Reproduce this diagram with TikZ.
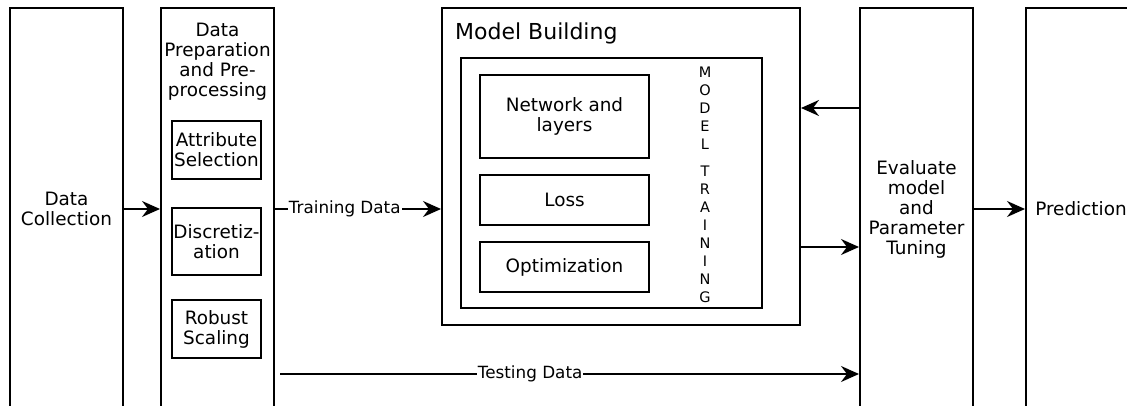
\documentclass[tikz,border=0pt]{standalone}
\usepackage{fontspec}
\setmainfont{DejaVu Sans}
\usetikzlibrary{arrows.meta,calc}

\begin{document}
\begin{tikzpicture}[
            x=1pt, y=-1pt,
            stage/.style={draw=black, line width=2pt, minimum width=113pt, minimum height=402pt, inner sep=0pt, align=center, font=\fontsize{18.4}{20}\selectfont},
            part/.style={draw=black, line width=2pt, inner sep=0pt, align=center, font=\fontsize{18.4}{20}\selectfont},
            title/.style={draw=none, inner sep=0pt, align=center, font=\fontsize{18.4}{20}\selectfont},
            wire/.style={line width=2pt, -{Stealth[length=18pt, width=16pt, inset=6pt]}},
            note/.style={fill=white, inner sep=1pt, font=\fontsize{16.8}{18}\selectfont},
        ]
            \useasboundingbox (0, 0) rectangle (1127, 406);
            \clip (0, 0) rectangle (1127, 406);
            %% stages
            \node[stage] at (66.5, 209) (collect) {Data\\Collection};
            \node[stage] at (217.5, 209) (prep) {};
            \node[title] at (217.5, 62) (prep-title) {Data\\Preparation\\and Pre-\\processing};
            \node[stage] at (916.5, 209) (eval) {Evaluate\\model\\and\\Parameter\\Tuning};
            \node[stage, minimum width=110pt] at (1081, 209) (predict) {Prediction};
            %% preprocessing steps
            \node[part, minimum width=89pt, minimum height=58pt] at (216.5, 150) (attr) {Attribute\\Selection};
            \node[part, minimum width=89pt, minimum height=67pt] at (216.5, 241.5) (discrete) {Discretiz-\\ation};
            \node[part, minimum width=89pt, minimum height=58pt] at (216.5, 329) (scaling) {Robust\\Scaling};
            %% model building
            \node[part, minimum width=358pt, minimum height=317pt] at (621, 166.5) (model) {};
            \node[title, anchor=west, font=\fontsize{22}{24}\selectfont] at (455, 33) (model-title) {Model Building};
            \node[part, minimum width=301pt, minimum height=250pt] at (611.5, 183) (training) {};
            \node[part, minimum width=169pt, minimum height=83pt] at (564.5, 116.5) (network) {Network and\\layers};
            \node[part, minimum width=169pt, minimum height=50pt] at (564.5, 200) (loss) {Loss};
            \node[part, minimum width=169pt, minimum height=50pt] at (564.5, 267) (optim) {Optimization};
            \node[title, font=\fontsize{14.5}{18}\selectfont] at (705, 184.5) (train-label) {M\\O\\D\\E\\L\\[9pt]T\\R\\A\\I\\N\\I\\N\\G};
            %% connection
            \coordinate (back) at (830, 108);
            \coordinate (ahead) at (830, 247);
            \coordinate (test) at (280, 374);
            \draw[wire] (collect.east) -- (prep.west);
            \draw[wire] (prep.east) -- node[note, pos=0.42] {Training Data} (prep.east -| model.west);
            \draw[wire] (eval.west |- back) -- (model.east |- back);
            \draw[wire] (model.east |- ahead) -- (eval.west |- ahead);
            \draw[wire] (eval.east) -- (predict.west);
            \draw[wire] (test) -- node[note, pos=0.432] {Testing Data} (eval.west |- test);

        \end{tikzpicture}
\end{document}
